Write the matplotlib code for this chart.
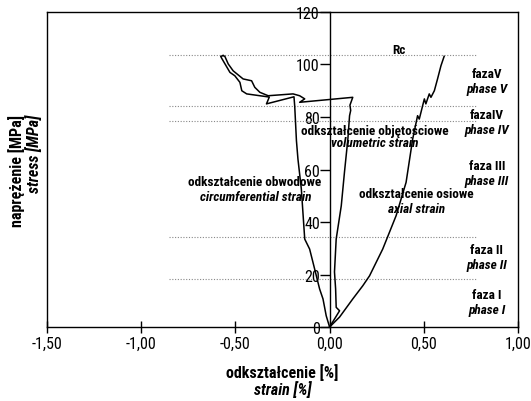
import matplotlib
matplotlib.use('Agg')
import matplotlib.pyplot as plt
from matplotlib import font_manager
from matplotlib.ticker import FuncFormatter

installed = {f.name for f in font_manager.fontManager.ttflist}
narrow = next((n for n in ['Roboto Condensed', 'Archivo Narrow', 'Liberation Sans Narrow',
                           'Fira Sans Condensed', 'IBM Plex Sans Condensed'] if n in installed), 'DejaVu Sans')
plt.rcParams['font.family'] = [narrow, 'DejaVu Sans']

# odksztalcenie osiowe (axial)
axial_x = [0.0, 0.053, 0.123, 0.176, 0.212, 0.282, 0.353, 0.406, 0.441, 0.467,
           0.476, 0.503, 0.511, 0.529, 0.538, 0.556, 0.573, 0.591, 0.608]
axial_y = [0.0, 3.8, 10.7, 15.7, 19.5, 29.7, 42.4, 55.1, 71.6, 80.5,
           79.2, 86.9, 85.0, 88.8, 87.5, 90.0, 94.5, 99.5, 103.1]

# odksztalcenie obwodowe (circumferential)
circ_x = [0.0, -0.018, -0.035, -0.053, -0.079, -0.106, -0.132, -0.15, -0.168,
          -0.176, -0.185, -0.189, -0.335, -0.32, -0.37, -0.44, -0.466, -0.476,
          -0.503, -0.529, -0.573, -0.578, -0.565]
circ_y = [0.0, 4.3, 10.7, 14.5, 22.0, 29.7, 33.5, 52.6, 64.0,
          71.0, 84.0, 87.7, 85.0, 87.6, 88.1, 88.8, 90.0, 93.2,
          95.7, 97.0, 102.4, 103.1, 103.4]

# odksztalcenie objetosciowe (volumetric)
vol_x = [0.0, 0.053, 0.035, 0.032, 0.026, 0.035, 0.062, 0.079, 0.097, 0.106,
         0.112, 0.108, 0.123, -0.159, -0.132, -0.159, -0.194, -0.326, -0.37,
         -0.397, -0.414, -0.459, -0.512, -0.538, -0.556, -0.565]
vol_y = [0.0, 6.2, 7.5, 14.5, 21.0, 33.5, 46.2, 59.0, 71.6, 80.5,
         82.5, 84.5, 87.5, 85.6, 86.9, 88.1, 88.8, 88.1, 89.4,
         91.3, 93.8, 94.5, 97.6, 100.2, 103.1, 103.4]

phase_levels = [18.3, 34.3, 78.5, 84.2, 103.6]
phase_names = ['faza I', 'faza II', 'faza III', 'fazaIV', 'fazaV']
phase_names_en = ['phase I', 'phase II', 'phase III', 'phase IV', 'phase V']
phase_label_y = [12.3, 29.5, 61.5, 80.8, 96.4]

fig = plt.figure(figsize=(5.31, 4.02), dpi=100)
ax = fig.add_axes([0.0885, 0.184, 0.887, 0.7837])

for lv in phase_levels:
    ax.plot([-0.85, 0.78], [lv, lv], color='#888888', lw=0.8, ls=(0, (1, 1.5)))

ax.plot(axial_x, axial_y, color='black', lw=1.1)
ax.plot(circ_x, circ_y, color='black', lw=1.1)
ax.plot(vol_x, vol_y, color='black', lw=1.1)

ax.set_xlim(-1.5, 1.0)
ax.set_ylim(0, 120)
ax.set_xticks([-1.5, -1.0, -0.5, 0.0, 0.5, 1.0])
ax.set_yticks([0, 20, 40, 60, 80, 100, 120])
ax.xaxis.set_major_formatter(FuncFormatter(lambda v, p: f"{v:.2f}".replace('.', ',')))
ax.spines['left'].set_position(('data', 0))
ax.tick_params(axis='x', direction='inout', length=9, width=1, labelsize=11.5, pad=2)
ax.tick_params(axis='y', direction='out', length=7, width=1, labelsize=11.5, pad=0)
for s in ax.spines.values():
    s.set_linewidth(1.0)
ax.plot([0, 0], [0, 1], transform=ax.transAxes, color='black', lw=1.0, clip_on=False)

bold = dict(fontsize=9.5, fontweight='bold')
ital = dict(fontsize=9.5, fontweight='bold', style='italic')

ax.text(0.37, 105.9, 'Rc', ha='center', va='center', **bold)
for name, en, y in zip(phase_names, phase_names_en, phase_label_y):
    ax.text(0.835, y, name, ha='center', va='center', **bold)
    ax.text(0.835, y - 5.6, en, ha='center', va='center', **ital)

ax.text(-0.40, 55.4, 'odkształcenie obwodowe', ha='center', va='center', **bold)
ax.text(-0.39, 49.8, 'circumferential strain', ha='center', va='center', **ital)
ax.text(0.238, 75.0, 'odkształcenie objętościowe', ha='center', va='center', **bold)
ax.text(0.238, 70.1, 'volumetric strain', ha='center', va='center', **ital)
ax.text(0.459, 51.0, 'odkształcenie osiowe', ha='center', va='center', **bold)
ax.text(0.459, 45.2, 'axial strain', ha='center', va='center', **ital)

fig.text(282 / 531, 1 - 373 / 402, 'odkształcenie [%]', ha='center', va='center', fontsize=11.5, fontweight='bold')
fig.text(283 / 531, 1 - 390 / 402, 'strain [%]', ha='center', va='center', fontsize=11.5, fontweight='bold', style='italic')
fig.text(17 / 531, 1 - 115 / 402, 'naprężenie [MPa]', ha='center', va='top', rotation=90, fontsize=11.5, fontweight='bold')
fig.text(34 / 531, 1 - 115 / 402, 'stress [MPa]', ha='center', va='top', rotation=90, fontsize=11.5, fontweight='bold', style='italic')

fig.savefig('out.png', dpi=100)
